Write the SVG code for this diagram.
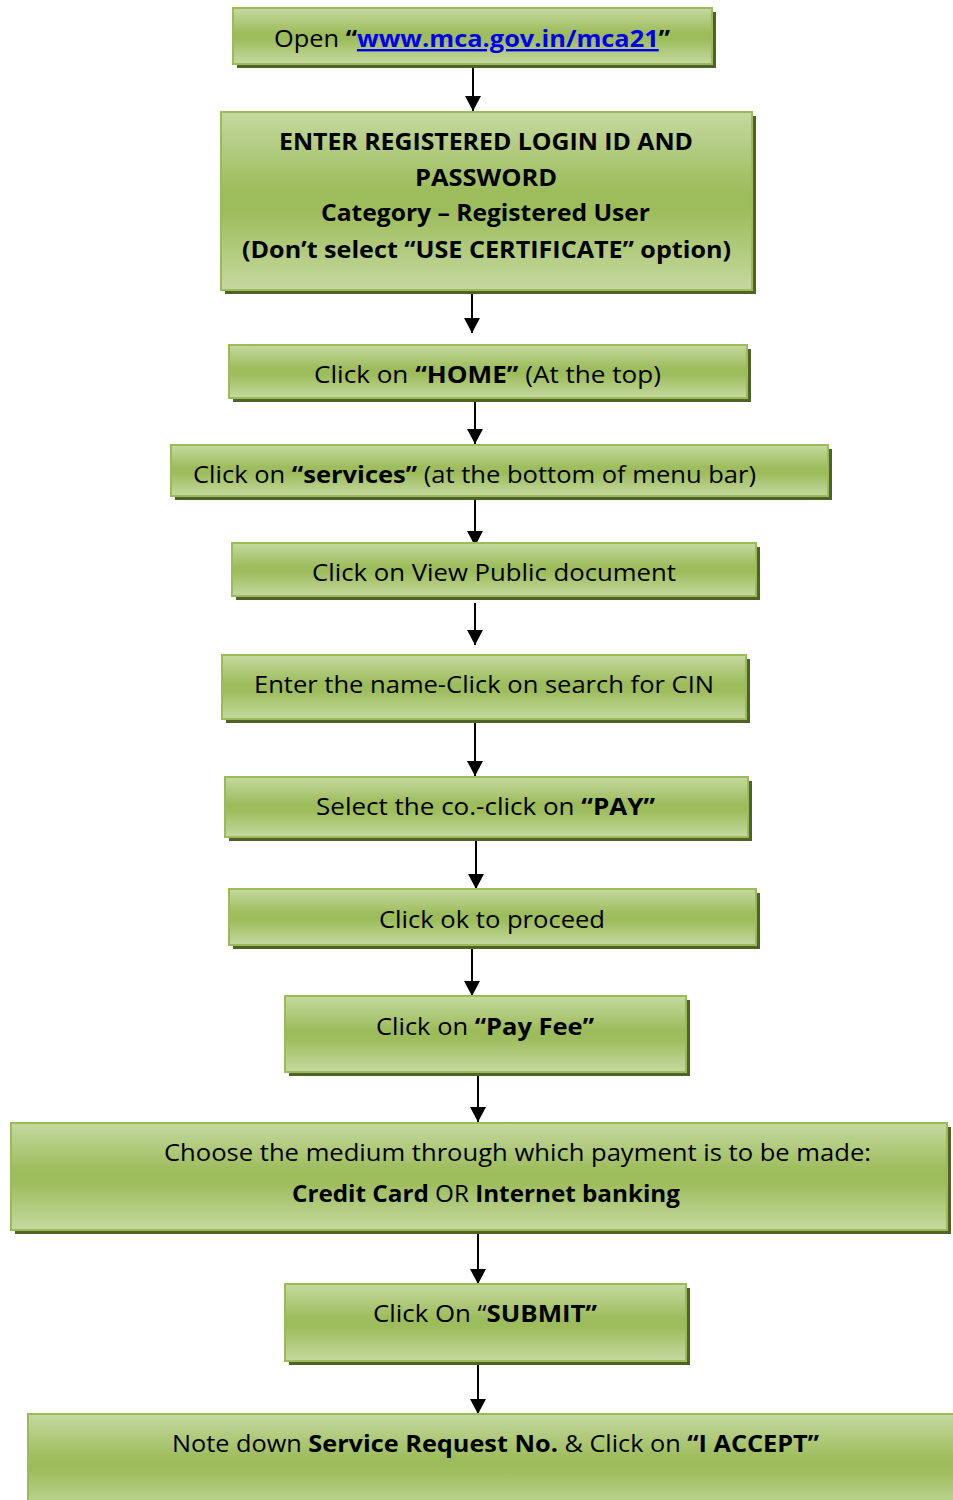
<svg xmlns="http://www.w3.org/2000/svg" width="953" height="1500" viewBox="0 0 953 1500">
<defs>
<linearGradient id="g" x1="0" y1="0" x2="0" y2="1">
<stop offset="0" stop-color="#C5D9A0"/>
<stop offset="0.45" stop-color="#9DBC5B"/>
<stop offset="0.55" stop-color="#9DBC5B"/>
<stop offset="1" stop-color="#C5D9A0"/>
</linearGradient>
<marker id="ah" viewBox="0 0 15 16" refX="15" refY="8" markerWidth="15" markerHeight="16" markerUnits="userSpaceOnUse" orient="auto">
<path d="M0,0 L15,8 L0,16 z" fill="#000"/>
</marker>
</defs>
<style>
.sh{fill:#4F6228}
.bx{fill:url(#g);stroke:#9BBB59;stroke-width:2}
.t{font-family:"Open Sans","Liberation Sans",sans-serif;font-size:24px;fill:#000}
.b{font-weight:bold}
.lk{fill:#0000EE;font-weight:bold;text-decoration:underline}
.c{stroke:#000;stroke-width:2;fill:none;marker-end:url(#ah)}
</style>
<rect width="953" height="1500" fill="#fff"/>
<g id="connectors">
<line class="c" x1="473" y1="64" x2="473" y2="111"/>
<line class="c" x1="472" y1="290" x2="472" y2="333"/>
<line class="c" x1="475" y1="398" x2="475" y2="444"/>
<line class="c" x1="475" y1="497" x2="475" y2="546"/>
<line class="c" x1="475" y1="603" x2="475" y2="645"/>
<line class="c" x1="475" y1="722" x2="475" y2="776"/>
<line class="c" x1="476" y1="838" x2="476" y2="889"/>
<line class="c" x1="472" y1="945" x2="472" y2="996"/>
<line class="c" x1="478" y1="1072" x2="478" y2="1122"/>
<line class="c" x1="478" y1="1231" x2="478" y2="1284"/>
<line class="c" x1="478" y1="1361" x2="478" y2="1414"/>
</g>
<g id="n1">
<rect class="sh" x="237" y="12" width="479" height="56"/>
<rect class="bx" x="233" y="8" width="479" height="56"/>
<text class="t" x="274" y="47" textLength="396" lengthAdjust="spacingAndGlyphs">Open <tspan class="b">“</tspan><tspan class="lk">www.mca.gov.in/mca21</tspan><tspan class="b">”</tspan></text>
</g>
<g id="n2">
<rect class="sh" x="225" y="116" width="531" height="178"/>
<rect class="bx" x="221" y="112" width="531" height="178"/>
<text class="t b" x="279" y="150" textLength="414" lengthAdjust="spacingAndGlyphs">ENTER REGISTERED LOGIN ID AND</text>
<text class="t b" x="415" y="186" textLength="142" lengthAdjust="spacingAndGlyphs">PASSWORD</text>
<text class="t b" x="321" y="221" textLength="329" lengthAdjust="spacingAndGlyphs">Category – Registered User</text>
<text class="t b" x="242" y="258" textLength="489" lengthAdjust="spacingAndGlyphs">(Don’t select “USE CERTIFICATE” option)</text>
</g>
<g id="n3">
<rect class="sh" x="233" y="349" width="518" height="53"/>
<rect class="bx" x="229" y="345" width="518" height="53"/>
<text class="t" x="314" y="383" textLength="347" lengthAdjust="spacingAndGlyphs">Click on <tspan class="b">“HOME”</tspan> (At the top)</text>
</g>
<g id="n4">
<rect class="sh" x="175" y="449" width="657" height="51"/>
<rect class="bx" x="171" y="445" width="657" height="51"/>
<text class="t" x="193" y="483" textLength="563" lengthAdjust="spacingAndGlyphs">Click on <tspan class="b">“services”</tspan> (at the bottom of menu bar)</text>
</g>
<g id="n5">
<rect class="sh" x="236" y="547" width="524" height="53"/>
<rect class="bx" x="232" y="543" width="524" height="53"/>
<text class="t" x="312" y="581" textLength="364" lengthAdjust="spacingAndGlyphs">Click on View Public document</text>
</g>
<g id="n6">
<rect class="sh" x="226" y="659" width="524" height="64"/>
<rect class="bx" x="222" y="655" width="524" height="64"/>
<text class="t" x="254" y="693" textLength="460" lengthAdjust="spacingAndGlyphs">Enter the name-Click on search for CIN</text>
</g>
<g id="n7">
<rect class="sh" x="229" y="781" width="523" height="60"/>
<rect class="bx" x="225" y="777" width="523" height="60"/>
<text class="t" x="316" y="815" textLength="339" lengthAdjust="spacingAndGlyphs">Select the co.-click on <tspan class="b">“PAY”</tspan></text>
</g>
<g id="n8">
<rect class="sh" x="233" y="893" width="527" height="56"/>
<rect class="bx" x="229" y="889" width="527" height="56"/>
<text class="t" x="379" y="928" textLength="226" lengthAdjust="spacingAndGlyphs">Click ok to proceed</text>
</g>
<g id="n9">
<rect class="sh" x="289" y="1000" width="401" height="76"/>
<rect class="bx" x="285" y="996" width="401" height="76"/>
<text class="t" x="376" y="1035" textLength="218" lengthAdjust="spacingAndGlyphs">Click on <tspan class="b">“Pay Fee”</tspan></text>
</g>
<g id="n10">
<rect class="sh" x="15" y="1127" width="936" height="107"/>
<rect class="bx" x="11" y="1123" width="936" height="107"/>
<text class="t" x="164" y="1161" textLength="707" lengthAdjust="spacingAndGlyphs">Choose the medium through which payment is to be made:</text>
<text class="t" x="292" y="1202" textLength="388" lengthAdjust="spacingAndGlyphs"><tspan class="b">Credit Card</tspan> OR <tspan class="b">Internet banking</tspan></text>
</g>
<g id="n11">
<rect class="sh" x="289" y="1288" width="401" height="77"/>
<rect class="bx" x="285" y="1284" width="401" height="77"/>
<text class="t" x="373" y="1322" textLength="224" lengthAdjust="spacingAndGlyphs">Click On “<tspan class="b">SUBMIT”</tspan></text>
</g>
<g id="n12">
<rect class="bx" x="28" y="1414" width="940" height="100"/>
<text class="t" x="172" y="1452" textLength="647" lengthAdjust="spacingAndGlyphs">Note down <tspan class="b">Service Request No.</tspan> &amp; Click on <tspan class="b">“I ACCEPT”</tspan></text>
</g>
</svg>
